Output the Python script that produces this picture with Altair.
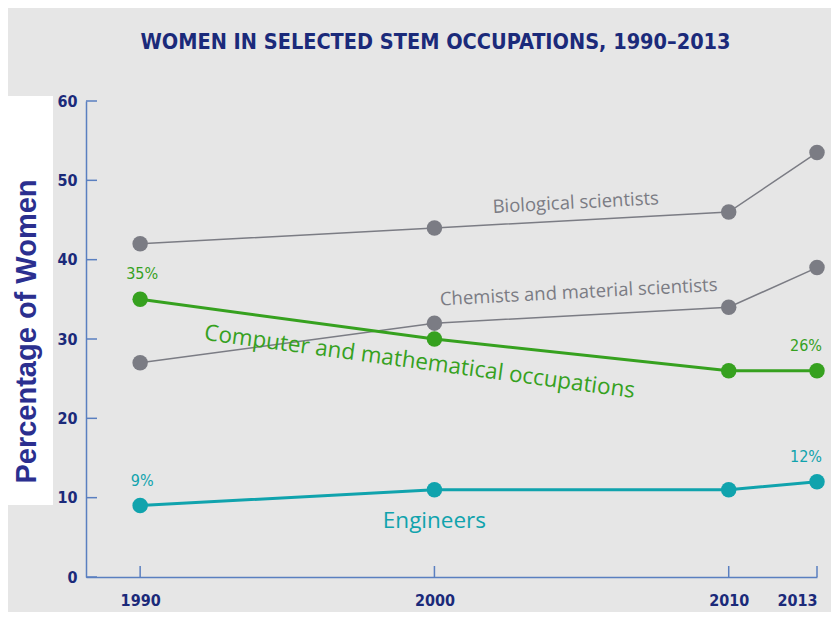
import altair as alt
import pandas as pd

# ---- data ----
years = [1990, 2000, 2010, 2013]
series_names = ["Biological scientists", "Chemists and material scientists",
                "Computer and mathematical occupations", "Engineers"]
bio = [42, 44, 46, 53.5]
chem = [27, 32, 34, 39]
comp = [35, 30, 26, 26]
eng = [9, 11, 11, 12]
y_ticks = [0, 10, 20, 30, 40, 50, 60]
x_ticks = [1990, 2000, 2010, 2013]

# percentage callouts (series, year)
pct_series = ["Computer and mathematical occupations", "Computer and mathematical occupations",
              "Engineers", "Engineers"]
pct_years = [1990, 2013, 1990, 2013]

# series name annotations (placed in data space)
ann_text = ["Biological scientists", "Chemists and material scientists",
            "Computer and mathematical occupations", "Engineers"]
ann_year = [2004.8, 2004.9, 1999.5, 2000]
ann_pct = [47.2, 35.9, 27.1, 7.0]
ann_angle = [357, 357, 7.7, 0]
ann_size = [18.5, 18.5, 22.5, 22.5]

colors = ["#7b7c84", "#7b7c84", "#36a11f", "#10a3ad"]

NAVY = "#1b2a7a"
AXIS = "#5a7fc0"
BG = "#e6e6e6"
COND = "DejaVu Sans Condensed, Roboto Condensed, Roboto, sans-serif"

rows = []
for name, vals in zip(series_names, [bio, chem, comp, eng]):
    for yr, v in zip(years, vals):
        rows.append({"series": name, "year": yr, "pct": v})
df = pd.DataFrame(rows)

pct_rows = []
for s, yr in zip(pct_series, pct_years):
    v = df[(df.series == s) & (df.year == yr)].pct.iloc[0]
    pct_rows.append({"series": s, "year": yr, "pct": v, "label": f"{v:g}%"})
pct_df = pd.DataFrame(pct_rows)

ann_df = pd.DataFrame({"series": ann_text, "year": ann_year, "pct": ann_pct,
                       "angle": ann_angle, "size": ann_size})

xscale = alt.Scale(domain=[1988.16, 2013], nice=False, zero=False)
yscale = alt.Scale(domain=[0, 60], nice=False)
cscale = alt.Scale(domain=series_names, range=colors)

base = alt.Chart(df)

xaxis = alt.Axis(values=x_ticks, format="d", title=None, ticks=False, grid=False,
                 domainColor=AXIS, domainWidth=1.5, labelPadding=15, zindex=1,
                 labelFont=COND, labelFontSize=16, labelFontWeight="bold",
                 labelColor=NAVY)
yaxis = alt.Axis(values=y_ticks, title="Percentage of Women", ticks=False, grid=False,
                 domainColor=AXIS, domainWidth=1.5, labelPadding=9, zindex=1,
                 labelFont=COND, labelFontSize=16, labelFontWeight="bold",
                 labelColor=NAVY, titleFont="Liberation Sans", titleFontSize=29,
                 titleFontWeight="bold", titleColor="#2b2f8f", titleAngle=270,
                 titleX=-60, titleY=230, titleAlign="center", titleBaseline="middle")

white_box = alt.Chart(pd.DataFrame({"a": [0]})).mark_rect(color="white").encode(
    x=alt.value(-78), x2=alt.value(-33), y=alt.value(-5), y2=alt.value(404))

thin = ["Biological scientists", "Chemists and material scientists"]
lines_thin = base.transform_filter(alt.FieldOneOfPredicate(field="series", oneOf=thin)).mark_line(strokeWidth=1.5).encode(
    x=alt.X("year:Q", scale=xscale, axis=xaxis),
    y=alt.Y("pct:Q", scale=yscale, axis=yaxis),
    color=alt.Color("series:N", scale=cscale, legend=None),
)
lines_thick = base.transform_filter(~alt.FieldOneOfPredicate(field="series", oneOf=thin)).mark_line(strokeWidth=3).encode(
    x=alt.X("year:Q", scale=xscale),
    y=alt.Y("pct:Q", scale=yscale),
    color=alt.Color("series:N", scale=cscale, legend=None),
)

points = base.mark_circle(size=240, opacity=1).encode(
    x=alt.X("year:Q", scale=xscale),
    y=alt.Y("pct:Q", scale=yscale),
    color=alt.Color("series:N", scale=cscale, legend=None),
)

ytick_rules = alt.Chart(pd.DataFrame({"v": y_ticks})).mark_rule(color=AXIS, strokeWidth=1.5).encode(
    y=alt.Y("v:Q", scale=yscale), x=alt.value(0), x2=alt.value(11))
xtick_rules = alt.Chart(pd.DataFrame({"v": x_ticks})).mark_rule(color=AXIS, strokeWidth=1.5).encode(
    x=alt.X("v:Q", scale=xscale), y=alt.value(476), y2=alt.value(465))

pct_enc = dict(
    x=alt.X("year:Q", scale=xscale),
    y=alt.Y("pct:Q", scale=yscale),
    text="label:N",
    color=alt.Color("series:N", scale=cscale, legend=None),
)
pct_first = alt.Chart(pct_df).transform_filter("datum.year == 1990").mark_text(
    font=COND, fontSize=16, dy=-25, dx=2).encode(**pct_enc)
pct_last = alt.Chart(pct_df).transform_filter("datum.year == 2013").mark_text(
    font=COND, fontSize=16, dy=-25, dx=-11).encode(**pct_enc)

ann_labels = alt.Chart(ann_df).mark_text(font="Open Sans", baseline="middle", align="center").encode(
    x=alt.X("year:Q", scale=xscale),
    y=alt.Y("pct:Q", scale=yscale),
    text="series:N",
    angle=alt.Angle("angle:Q", scale=None),
    size=alt.Size("size:Q", scale=None),
    color=alt.Color("series:N", scale=cscale, legend=None),
)

chart = alt.layer(white_box, ytick_rules, xtick_rules, lines_thin, lines_thick, points,
                  pct_first, pct_last, ann_labels).properties(
    width=731, height=476,
    title=alt.TitleParams("WOMEN IN SELECTED STEM OCCUPATIONS, 1990–2013",
                          font=COND, fontSize=21.5, fontWeight="bold",
                          color=NAVY, anchor="middle", frame="group", dx=-16, offset=40),
    background=BG,
    padding={"left": 78, "top": 93, "right": 14, "bottom": 35},
    autosize=alt.AutoSizeParams(type="none"),
).configure_view(stroke=None)

chart.save("out.html", embed_options={"renderer": "svg", "actions": False})
